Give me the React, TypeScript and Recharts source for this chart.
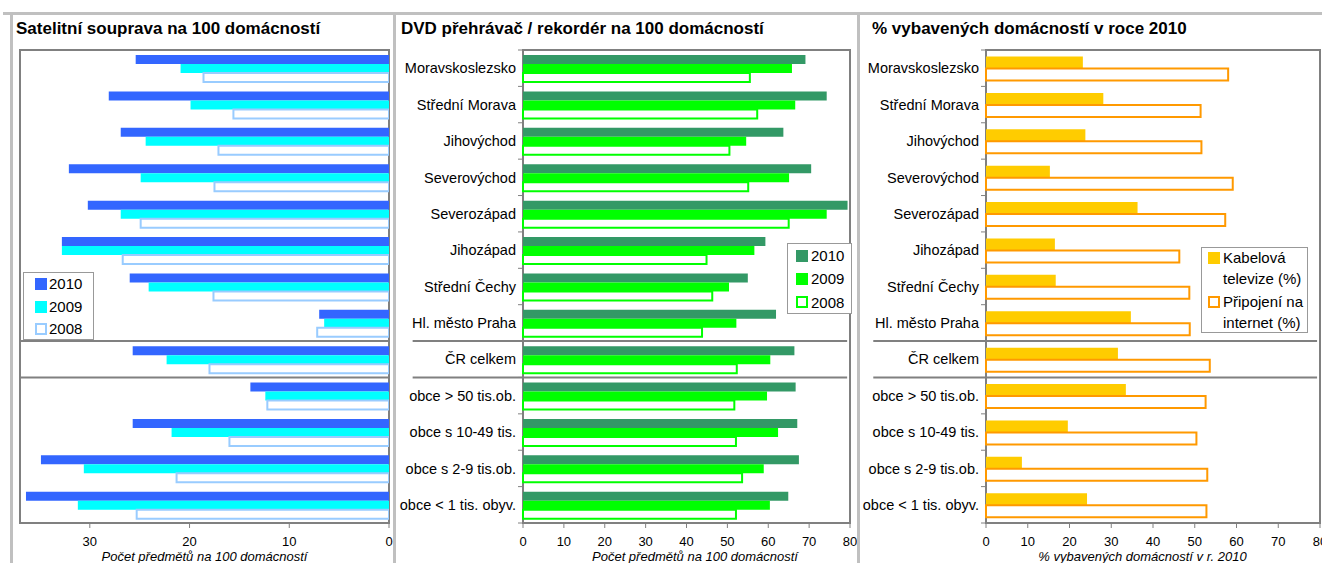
import React from 'react';
import { BarChart, Bar, XAxis, YAxis, Legend, ReferenceArea, ReferenceLine } from 'recharts';

const FONT = '"Liberation Sans", Arial, Helvetica, sans-serif';

const categories = [
  'Moravskoslezsko',
  'Střední Morava',
  'Jihovýchod',
  'Severovýchod',
  'Severozápad',
  'Jihozápad',
  'Střední Čechy',
  'Hl. město Praha',
  'ČR celkem',
  'obce > 50 tis.ob.',
  'obce s 10-49 tis.',
  'obce s 2-9 tis.ob.',
  'obce < 1 tis. obyv.',
];

const sat2010 = [25.4, 28.1, 26.9, 32.1, 30.2, 32.8, 26.0, 7.0, 25.7, 13.9, 25.7, 34.9, 36.4];
const sat2009 = [20.9, 19.9, 24.4, 24.9, 26.9, 32.8, 24.1, 6.5, 22.3, 12.4, 21.8, 30.6, 31.2];
const sat2008 = [18.6, 15.6, 17.1, 17.5, 24.9, 26.7, 17.6, 7.2, 18.0, 12.2, 16.0, 21.3, 25.3];

const dvd2010 = [69.1, 74.3, 63.7, 70.5, 79.4, 59.3, 55.0, 61.9, 66.4, 66.7, 67.1, 67.5, 64.9];
const dvd2009 = [65.8, 66.6, 54.6, 65.1, 74.3, 56.6, 50.4, 52.2, 60.5, 59.7, 62.4, 58.9, 60.4];
const dvd2008 = [55.5, 57.3, 50.5, 55.1, 65.0, 44.9, 46.3, 43.8, 52.3, 51.7, 52.1, 53.6, 52.1];

const cable = [23.2, 28.1, 23.8, 15.3, 36.3, 16.5, 16.7, 34.7, 31.6, 33.5, 19.6, 8.6, 24.2];
const internet = [58.0, 51.4, 51.6, 59.1, 57.3, 46.3, 48.7, 48.8, 53.6, 52.6, 50.4, 53.0, 52.8];

const satTicks = [0, 10, 20, 30];
const pctTicks = [0, 10, 20, 30, 40, 50, 60, 70, 80];
const satDomain: [number, number] = [0, 37];
const pctDomain: [number, number] = [0, 80];

const titles = [
  'Satelitní souprava na 100 domácností',
  'DVD přehrávač / rekordér na 100 domácností',
  '% vybavených domácností v roce 2010',
];
const axisTitles = [
  'Počet předmětů na 100 domácností',
  'Počet předmětů na 100 domácností',
  '% vybavených domácností v r. 2010',
];

const satData = categories.map((name, i) => ({ name, y2010: sat2010[i], y2009: sat2009[i], y2008: sat2008[i] }));
const dvdData = categories.map((name, i) => ({ name, y2010: dvd2010[i], y2009: dvd2009[i], y2008: dvd2008[i] }));
const pctData = categories.map((name, i) => ({ name, cable: cable[i], internet: internet[i] }));

type Series = { key: string; name: string; fill: string; stroke?: string };

const satSeries: Series[] = [
  { key: 'y2010', name: '2010', fill: '#3366FF' },
  { key: 'y2009', name: '2009', fill: '#00FFFF' },
  { key: 'y2008', name: '2008', fill: '#FFFFFF', stroke: '#99CCFF' },
];
const dvdSeries: Series[] = [
  { key: 'y2010', name: '2010', fill: '#339966' },
  { key: 'y2009', name: '2009', fill: '#00FF00' },
  { key: 'y2008', name: '2008', fill: '#FFFFFF', stroke: '#00FF00' },
];
const pctSeries: Series[] = [
  { key: 'cable', name: 'Kabelová televize (%)', fill: '#FFCC00' },
  { key: 'internet', name: 'Připojení na internet (%)', fill: '#FFFFFF', stroke: '#FF9900' },
];

const GRAY = '#808080';
const SEP_CAT = categories[8];

const CategoryTick = (props: any) => {
  const { x, y, payload, index, visibleTicksCount } = props;
  const half = payload && typeof payload.offset === 'number' ? payload.offset : 0;
  const axisX = x + 7;
  return (
    <g>
      <text x={x} y={y} dy="0.36em" textAnchor="end" fontSize={14.5} fontFamily={FONT} fill="#000">
        {payload.value}
      </text>
      {half > 0 && <line x1={axisX - 5} x2={axisX} y1={y - half} y2={y - half} stroke={GRAY} strokeWidth={1} />}
      {half > 0 && index === visibleTicksCount - 1 && (
        <line x1={axisX - 5} x2={axisX} y1={y + half} y2={y + half} stroke={GRAY} strokeWidth={1} />
      )}
    </g>
  );
};

type LegendOpts = {
  w: number;
  h: number;
  rowH: number;
  padL: number;
  gapAfterSq: number;
  textW?: number;
  itemGap?: number;
  bg: string;
};

const makeLegend = (series: Series[], o: LegendOpts) => (props: any) => {
  const payload: any[] = props.payload || [];
  // keep the series order of the original (2010 first), whatever order the payload has
  const ordered = series.filter((s) => payload.length === 0 || payload.some((p) => p.dataKey === s.key));
  return (
    <div
      style={{
        boxSizing: 'border-box',
        width: o.w,
        height: o.h,
        border: '1px solid #999',
        background: o.bg,
        paddingLeft: o.padL,
        fontFamily: FONT,
        fontSize: 15,
        color: '#000',
      }}
    >
      {ordered.map((s) => (
        <div
          key={s.key}
          style={{
            display: 'flex',
            alignItems: o.textW ? 'flex-start' : 'center',
            minHeight: o.rowH,
            lineHeight: `${o.rowH}px`,
            marginBottom: o.itemGap || 0,
          }}
        >
          <div
            style={{
              boxSizing: 'border-box',
              width: 12,
              height: 12,
              flex: '0 0 12px',
              marginTop: o.textW ? (o.rowH - 12) / 2 : 0,
              background: s.fill,
              border: s.stroke ? `2px solid ${s.stroke}` : 'none',
              marginRight: o.gapAfterSq,
            }}
          />
          <div style={{ width: o.textW, whiteSpace: o.textW ? 'normal' : 'nowrap' }}>{s.name}</div>
        </div>
      ))}
    </div>
  );
};

const tickStyle = { fill: '#000', fontSize: 13, fontFamily: FONT };
const axisLabel = (value: string, dx: number) => ({
  value,
  position: 'insideBottom' as const,
  offset: 2,
  dx,
  fill: '#000',
  fontSize: 13,
  fontStyle: 'italic',
  fontFamily: FONT,
});

const frame: React.CSSProperties = { position: 'absolute', background: '#C0C0C0' };
const titleStyle: React.CSSProperties = {
  position: 'absolute',
  fontFamily: FONT,
  fontWeight: 'bold',
  fontSize: 17,
  lineHeight: '20px',
  color: '#000',
  whiteSpace: 'nowrap',
};

export default function App() {
  return (
    <div style={{ position: 'absolute', left: 0, top: 0, width: 1322, height: 563, overflow: 'hidden', background: '#fff', fontFamily: FONT }}>
      {/* Panel 1 */}
      <div style={{ position: 'absolute', left: 0, top: 0 }}>
        <BarChart width={395} height={563} data={satData} layout="vertical" margin={{ top: 50, right: 6, bottom: 0, left: 20 }} barCategoryGap="14%" barGap={0}>
          <XAxis
            type="number"
            reversed
            domain={satDomain}
            ticks={satTicks}
            interval={0}
            allowDataOverflow
            height={40}
            stroke={GRAY}
            axisLine={false}
            tickSize={5}
            tickMargin={9}
            tick={tickStyle}
            label={axisLabel(axisTitles[0], 0)}
          />
          <YAxis type="category" dataKey="name" orientation="right" hide />
          <ReferenceArea x1={satDomain[0]} x2={satDomain[1]} fill="none" stroke={GRAY} strokeWidth={2} ifOverflow="visible" />
          <ReferenceLine y={SEP_CAT} position="start" stroke={GRAY} strokeWidth={2} />
          <ReferenceLine y={SEP_CAT} position="end" stroke={GRAY} strokeWidth={2} />
          {satSeries.map((s) => (
            <Bar key={s.key} dataKey={s.key} name={s.name} fill={s.fill} stroke={s.stroke} strokeWidth={s.stroke ? 2 : 0} isAnimationActive={false} />
          ))}
          <Legend
            layout="horizontal"
            verticalAlign="middle"
            align="center"
            wrapperStyle={{ left: 23, top: 272, width: 71, height: 68 }}
            content={makeLegend(satSeries, { w: 71, h: 68, rowH: 22.5, padL: 11, gapAfterSq: 2, bg: 'transparent' })}
          />
        </BarChart>
      </div>

      {/* Panel 2 */}
      <div style={{ position: 'absolute', left: 396, top: 0 }}>
        <BarChart width={461} height={563} data={dvdData} layout="vertical" margin={{ top: 50, right: 7, bottom: 0, left: 0 }} barCategoryGap="14%" barGap={0}>
          <XAxis
            type="number"
            domain={pctDomain}
            ticks={pctTicks}
            interval={0}
            height={40}
            stroke={GRAY}
            axisLine={false}
            tickSize={5}
            tickMargin={9}
            tick={tickStyle}
            label={axisLabel(axisTitles[1], 8.5)}
          />
          <YAxis
            type="category"
            dataKey="name"
            width={127}
            interval={0}
            axisLine={false}
            tickLine={false}
            tickSize={0}
            tickMargin={7}
            tick={(p: any) => <CategoryTick {...p} />}
          />
          <ReferenceArea x1={pctDomain[0]} x2={pctDomain[1]} fill="none" stroke={GRAY} strokeWidth={2} ifOverflow="visible" />
          <ReferenceLine segment={[{ x: -27, y: SEP_CAT }, { x: 79.3, y: SEP_CAT }]} position="start" ifOverflow="visible" stroke={GRAY} strokeWidth={2} />
          <ReferenceLine segment={[{ x: -27, y: SEP_CAT }, { x: 79.3, y: SEP_CAT }]} position="end" ifOverflow="visible" stroke={GRAY} strokeWidth={2} />
          {dvdSeries.map((s) => (
            <Bar key={s.key} dataKey={s.key} name={s.name} fill={s.fill} stroke={s.stroke} strokeWidth={s.stroke ? 2 : 0} isAnimationActive={false} />
          ))}
          <Legend
            layout="horizontal"
            verticalAlign="middle"
            align="center"
            wrapperStyle={{ left: 391, top: 243, width: 65, height: 71 }}
            content={makeLegend(dvdSeries, { w: 65, h: 71, rowH: 23.3, padL: 8, gapAfterSq: 3, bg: '#fff' })}
          />
        </BarChart>
      </div>

      {/* Panel 3 */}
      <div style={{ position: 'absolute', left: 859, top: 0 }}>
        <BarChart width={463} height={563} data={pctData} layout="vertical" margin={{ top: 50, right: 2, bottom: 0, left: 0 }} barCategoryGap="18%" barGap={0}>
          <XAxis
            type="number"
            domain={pctDomain}
            ticks={pctTicks}
            interval={0}
            height={40}
            stroke={GRAY}
            axisLine={false}
            tickSize={5}
            tickMargin={9}
            tick={tickStyle}
            label={axisLabel(axisTitles[2], -10.5)}
          />
          <YAxis
            type="category"
            dataKey="name"
            width={127}
            interval={0}
            axisLine={false}
            tickLine={false}
            tickSize={0}
            tickMargin={7}
            tick={(p: any) => <CategoryTick {...p} />}
          />
          <ReferenceArea x1={pctDomain[0]} x2={pctDomain[1]} fill="none" stroke={GRAY} strokeWidth={2} ifOverflow="visible" />
          <ReferenceLine segment={[{ x: -27, y: SEP_CAT }, { x: 79.3, y: SEP_CAT }]} position="start" ifOverflow="visible" stroke={GRAY} strokeWidth={2} />
          <ReferenceLine segment={[{ x: -27, y: SEP_CAT }, { x: 79.3, y: SEP_CAT }]} position="end" ifOverflow="visible" stroke={GRAY} strokeWidth={2} />
          {pctSeries.map((s) => (
            <Bar key={s.key} dataKey={s.key} name={s.name} fill={s.fill} stroke={s.stroke} strokeWidth={s.stroke ? 2 : 0} isAnimationActive={false} />
          ))}
          <Legend
            layout="horizontal"
            verticalAlign="middle"
            align="center"
            wrapperStyle={{ left: 342, top: 247, width: 107, height: 86 }}
            content={makeLegend(pctSeries, { w: 107, h: 86, rowH: 20.5, padL: 6, gapAfterSq: 3, textW: 88, itemGap: 3, bg: '#fff' })}
          />
        </BarChart>
      </div>

      {/* frame lines */}
      <div style={{ ...frame, left: 3, top: 12, width: 1319, height: 3 }} />
      <div style={{ ...frame, left: 10, top: 12, width: 3, height: 551 }} />
      <div style={{ ...frame, left: 393, top: 12, width: 3, height: 551 }} />
      <div style={{ ...frame, left: 857, top: 12, width: 3, height: 551 }} />

      {/* panel titles */}
      <div style={{ ...titleStyle, left: 16, top: 19 }}>{titles[0]}</div>
      <div style={{ ...titleStyle, left: 401, top: 18.5 }}>{titles[1]}</div>
      <div style={{ ...titleStyle, left: 872, top: 18.5 }}>{titles[2]}</div>
    </div>
  );
}
